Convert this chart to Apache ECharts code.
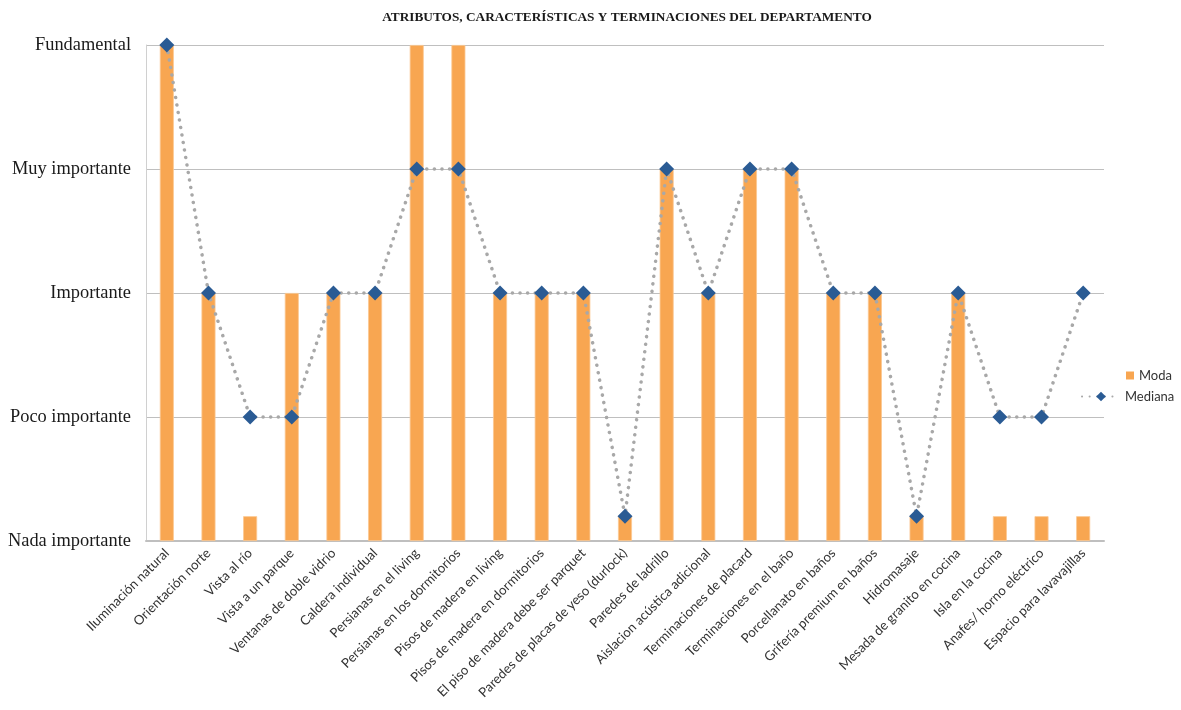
<!DOCTYPE html>
<html>
<head>
<meta charset="utf-8">
<script src="https://cdn.jsdelivr.net/npm/echarts@6/dist/echarts.min.js"></script>
<style>
  html, body { margin: 0; padding: 0; background: #fff; }
  #chart { width: 1181px; height: 710px; }
</style>
</head>
<body>
<div id="chart"></div>
<script>
// Attributes rated in the survey
const categories = [
  'Iluminación natural', 'Orientación norte', 'Vista al río', 'Vista a un parque',
  'Ventanas de doble vidrio', 'Caldera individual', 'Persianas en el living',
  'Persianas en los dormitorios', 'Pisos de madera en living',
  'Pisos de madera en dormitorios', 'El piso de madera debe ser parquet',
  'Paredes de placas de yeso (durlock)', 'Paredes de ladrillo',
  'Aislacion acústica adicional', 'Terminaciones de placard',
  'Terminaciones en el baño', 'Porcellanato en baños', 'Grifería premium en baños',
  'Hidromasaje', 'Mesada de granito en cocina', 'Isla en la cocina',
  'Anafes/ horno eléctrico', 'Espacio para lavavajillas'
];

// Importance scale (0 = Nada importante ... 4 = Fundamental)
const levelLabels = ['Nada importante', 'Poco importante', 'Importante', 'Muy importante', 'Fundamental'];

// Mode of the answers per attribute (bars)
const moda = [4, 2, 0.2, 2, 2, 2, 4, 4, 2, 2, 2, 0.2, 3, 2, 3, 3, 2, 2, 0.2, 2, 0.2, 0.2, 0.2];

// Median of the answers per attribute (dotted line with markers)
const mediana = [4, 2, 1, 1, 2, 2, 3, 3, 2, 2, 2, 0.2, 3, 2, 3, 3, 2, 2, 0.2, 2, 1, 1, 2];

const ORANGE = '#f8a651';
const BLUE = '#2a5b94';
const DOTS = '#a8a8a8';

const chart = echarts.init(document.getElementById('chart'));

const legendText = { fontFamily: 'Lato', fontSize: 13, color: '#333' };

chart.setOption({
  animation: false,
  backgroundColor: '#ffffff',
  title: {
    text: 'ATRIBUTOS, CARACTERÍSTICAS Y TERMINACIONES DEL DEPARTAMENTO',
    left: 622,
    textAlign: 'center',
    top: 6,
    textStyle: {
      fontFamily: 'Liberation Serif',
      fontWeight: 'bold',
      fontSize: 13.3,
      color: '#1a1a1a'
    }
  },
  legend: [
    {
      left: 1121,
      top: 364,
      itemWidth: 8,
      itemHeight: 8,
      itemGap: 5,
      textStyle: legendText,
      data: [{ name: 'Moda', icon: 'rect', itemStyle: { color: ORANGE, borderWidth: 0 } }]
    },
    {
      left: 1076,
      top: 385,
      itemWidth: 38,
      itemHeight: 12,
      itemGap: 10,
      textStyle: legendText,
      data: [{ name: 'Mediana' }]
    }
  ],
  grid: { left: 146, right: 77, top: 45, bottom: 169, containLabel: false },
  xAxis: {
    type: 'category',
    data: categories,
    axisLine: { lineStyle: { color: '#bfbfbf', width: 2 } },
    axisTick: { show: false },
    axisLabel: {
      interval: 0,
      rotate: 45,
      margin: 10,
      fontFamily: 'Lato',
      fontSize: 13.2,
      color: '#333'
    }
  },
  yAxis: {
    type: 'value',
    min: 0,
    max: 4,
    interval: 1,
    axisLine: { show: true, lineStyle: { color: '#d0d0d0', width: 1 } },
    axisTick: { show: false },
    splitLine: { lineStyle: { color: '#bfbfbf', width: 1 } },
    axisLabel: {
      margin: 15,
      fontFamily: 'Liberation Serif',
      fontSize: 18.4,
      color: '#1a1a1a',
      formatter: v => levelLabels[Math.round(v)]
    }
  },
  series: [
    {
      name: 'Moda',
      type: 'bar',
      data: moda,
      barWidth: 14,
      itemStyle: {
        color: ORANGE,
        borderColor: '#fbc892',
        borderWidth: 0.8
      }
    },
    {
      name: 'Mediana',
      type: 'line',
      data: mediana,
      symbol: 'diamond',
      symbolSize: 15,
      showSymbol: true,
      itemStyle: { color: BLUE },
      lineStyle: {
        color: DOTS,
        width: 3.5,
        type: [0.1, 7.5],
        cap: 'round'
      },
      z: 3
    }
  ]
});
</script>
</body>
</html>
